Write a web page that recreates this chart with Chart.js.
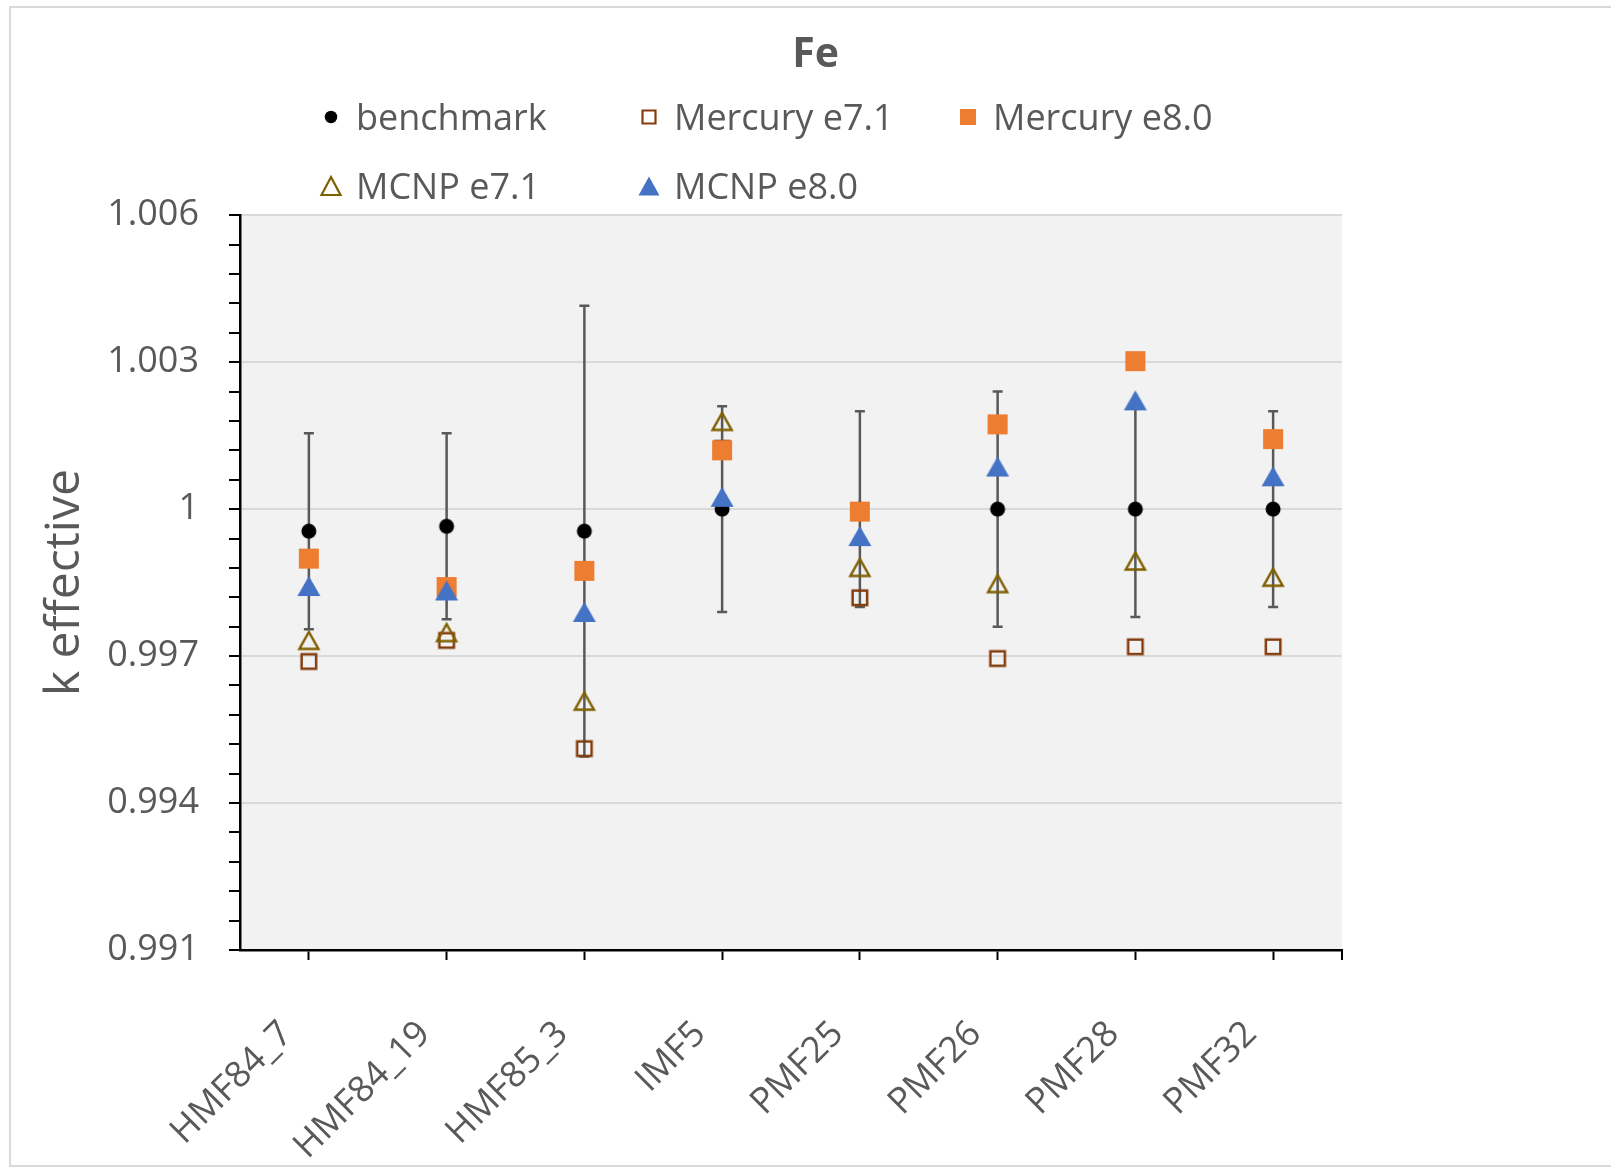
<!DOCTYPE html>
<html>
<head>
<meta charset="utf-8">
<title>Fe</title>
<script src="https://cdn.jsdelivr.net/npm/chart.js@4.4.1/dist/chart.umd.min.js"></script>
<style>
  html, body { margin: 0; padding: 0; background: #fff; }
  #wrap { position: relative; width: 1611px; height: 1168px; }
  #legend { position: absolute; left: 0; top: 0; font-family: "Open Sans", sans-serif; font-size: 36px; color: #595959; }
  .item { position: absolute; white-space: nowrap; line-height: 36px; }
  .mark { position: absolute; }
</style>
</head>
<body>
<div id="wrap">
  <canvas id="canvas" width="1611" height="1168"></canvas>
  <div id="legend"></div>
</div>
<script>
var categories = ["HMF84_7", "HMF84_19", "HMF85_3", "IMF5", "PMF25", "PMF26", "PMF28", "PMF32"];

var benchmark   = [0.99955, 0.99965, 0.99955, 1.0000, 1.0000, 1.0000, 1.0000, 1.0000];
var benchUnc    = [0.0020, 0.0019, 0.0046, 0.0021, 0.0020, 0.0024, 0.0022, 0.0020];
var mercuryE71  = [0.99689, 0.99732, 0.99511, 1.00124, 0.99819, 0.99695, 0.99719, 0.99719];
var mercuryE80  = [0.99899, 0.99841, 0.99874, 1.00120, 0.99995, 1.00173, 1.00302, 1.00143];
var mcnpE71     = [0.99732, 0.99748, 0.99608, 1.00179, 0.99881, 0.99848, 0.99894, 0.99861];
var mcnpE80     = [0.99843, 0.99834, 0.99790, 1.00025, 0.99945, 1.00087, 1.00222, 1.00067];

var yTickLabels = ["0.991", "0.994", "0.997", "1", "1.003", "1.006"];

var textGray = '#595959';
var font = '"Open Sans", sans-serif';

// small canvases used as point styles so shapes are centred on their box (like Excel)
function makeMarker(shape, w, h, fill, stroke, lw) {
    var pad = Math.ceil(lw || 0) + 2;
    var c = document.createElement('canvas');
    c.width = Math.ceil(w) + pad * 2;
    c.height = Math.ceil(h) + pad * 2;
    if (c.width % 2) c.width++;
    if (c.height % 2) c.height++;
    var g = c.getContext('2d');
    var cx = c.width / 2, cy = c.height / 2;
    g.beginPath();
    if (shape === 'circle') {
        g.arc(cx, cy, w / 2, 0, Math.PI * 2);
    } else if (shape === 'square') {
        g.rect(cx - w / 2, cy - h / 2, w, h);
    } else {
        g.moveTo(cx, cy - h / 2);
        g.lineTo(cx + w / 2, cy + h / 2);
        g.lineTo(cx - w / 2, cy + h / 2);
        g.closePath();
    }
    if (fill) { g.fillStyle = fill; g.fill(); }
    if (stroke) { g.lineWidth = lw; g.strokeStyle = stroke; g.stroke(); }
    return c;
}

var series = [
    { label: 'benchmark', data: benchmark, order: 5,
      mark: makeMarker('circle', 15, 15, '#000'), legendMark: makeMarker('circle', 12.5, 12.5, '#000') },
    { label: 'Mercury e7.1', data: mercuryE71, order: 4,
      mark: makeMarker('square', 14.5, 14.5, null, '#843c0c', 2.5), legendMark: makeMarker('square', 13, 13, null, '#843c0c', 2.2) },
    { label: 'Mercury e8.0', data: mercuryE80, order: 3,
      mark: makeMarker('square', 20, 20, '#ed7d31'), legendMark: makeMarker('square', 16, 16, '#ed7d31') },
    { label: 'MCNP e7.1', data: mcnpE71, order: 2,
      mark: makeMarker('triangle', 19, 17, null, '#7f6000', 2.5), legendMark: makeMarker('triangle', 19, 18, null, '#7f6000', 2.2) },
    { label: 'MCNP e8.0', data: mcnpE80, order: 1,
      mark: makeMarker('triangle', 23, 20, '#4472c4'), legendMark: makeMarker('triangle', 21, 19, '#4472c4') }
];

var datasets = series.map(function (s) {
    return {
        label: s.label,
        data: s.data,
        order: s.order,
        showLine: false,
        pointStyle: s.mark,
        pointRadius: 10,
        pointHoverRadius: 10
    };
});

function isMajor(v) {
    for (var i = 0; i < yTickLabels.length; i++) {
        if (Math.abs(parseFloat(yTickLabels[i]) - v) < 1e-7) return yTickLabels[i];
    }
    return null;
}

var chartDecor = {
    id: 'chartDecor',
    beforeDraw: function (chart) {
        var ctx = chart.ctx, a = chart.chartArea;
        ctx.save();
        ctx.fillStyle = '#f2f2f2';
        ctx.fillRect(a.left, a.top, a.right - a.left, a.bottom - a.top);
        ctx.strokeStyle = '#d9d9d9';
        ctx.lineWidth = 2;
        ctx.strokeRect(10, 7, 1640, 1159);
        ctx.restore();
    },
    beforeDatasetsDraw: function (chart) {
        var ctx = chart.ctx, x = chart.scales.x, y = chart.scales.y;
        ctx.save();
        ctx.strokeStyle = '#595959';
        ctx.lineWidth = 2.5;
        benchmark.forEach(function (v, i) {
            var px = x.getPixelForValue(i);
            var top = y.getPixelForValue(v + benchUnc[i]);
            var bot = y.getPixelForValue(v - benchUnc[i]);
            ctx.beginPath();
            ctx.moveTo(px, top); ctx.lineTo(px, bot);
            ctx.moveTo(px - 5, top); ctx.lineTo(px + 5, top);
            ctx.moveTo(px - 5, bot); ctx.lineTo(px + 5, bot);
            ctx.stroke();
        });
        ctx.restore();
    },
    afterDraw: function (chart) {
        var ctx = chart.ctx, a = chart.chartArea;
        ctx.save();
        ctx.strokeStyle = '#000';
        ctx.lineWidth = 2;
        ctx.beginPath();
        ctx.moveTo(a.right, a.bottom);
        ctx.lineTo(a.right, a.bottom + 10);
        ctx.stroke();
        ctx.restore();
    }
};

var ctx = document.getElementById('canvas').getContext('2d');
var myChart = new Chart(ctx, {
    type: 'line',
    data: { labels: categories, datasets: datasets },
    plugins: [chartDecor],
    options: {
        responsive: false,
        animation: false,
        layout: { padding: { left: 20, right: 0, top: 0, bottom: 0 } },
        plugins: {
            legend: { display: false },
            tooltip: { enabled: false },
            title: {
                display: true,
                text: 'Fe',
                color: textGray,
                font: { family: font, size: 41, weight: 'bold', lineHeight: 1.2 },
                padding: { top: 31, bottom: 135 }
            }
        },
        scales: {
            x: {
                type: 'category',
                offset: true,
                grid: { offset: false, drawOnChartArea: false, tickLength: 10, tickColor: '#000', tickWidth: 2 },
                border: { color: '#000', width: 2.5 },
                ticks: {
                    color: textGray,
                    font: { family: font, size: 36 },
                    maxRotation: 45,
                    minRotation: 45,
                    padding: 53,
                    labelOffset: -22,
                    autoSkip: false
                },
                afterFit: function (s) { s.height = 218; }
            },
            y: {
                min: 0.991,
                max: 1.006,
                ticks: {
                    stepSize: 0.0006,
                    autoSkip: false,
                    color: textGray,
                    font: { family: font, size: 36 },
                    padding: 30,
                    callback: function (v) { return isMajor(v) || ''; }
                },
                grid: {
                    color: function (c) { return c.tick && isMajor(c.tick.value) ? '#d9d9d9' : 'rgba(0,0,0,0)'; },
                    lineWidth: 2,
                    tickLength: 11,
                    tickColor: '#000',
                    tickWidth: 2
                },
                border: { color: '#000', width: 2.5 },
                title: {
                    display: true,
                    text: 'k effective',
                    color: textGray,
                    font: { family: font, size: 48, lineHeight: 1.2 },
                    padding: { top: 17, bottom: 0 }
                },
                afterFit: function (s) { s.width = 220; }
            },
            // empty right-hand axis: reserves the white space right of the plot
            pad: {
                type: 'linear',
                position: 'right',
                display: true,
                grid: { display: false },
                border: { display: false },
                ticks: { display: false },
                afterFit: function (s) { s.width = 269; }
            }
        }
    }
});

// legend laid out as in the original (three columns, two rows)
var legendCols = [331, 649, 968];
var legendRows = [117, 186];
var legendEl = document.getElementById('legend');
series.forEach(function (s, i) {
    var mx = legendCols[i % 3], my = legendRows[Math.floor(i / 3)];
    var m = s.legendMark;
    m.className = 'mark';
    m.style.left = (mx - m.width / 2) + 'px';
    m.style.top = (my - m.height / 2) + 'px';
    legendEl.appendChild(m);
    var t = document.createElement('div');
    t.className = 'item';
    t.textContent = s.label;
    t.style.left = (mx + 25) + 'px';
    t.style.top = (my - 18) + 'px';
    legendEl.appendChild(t);
});
</script>
</body>
</html>
